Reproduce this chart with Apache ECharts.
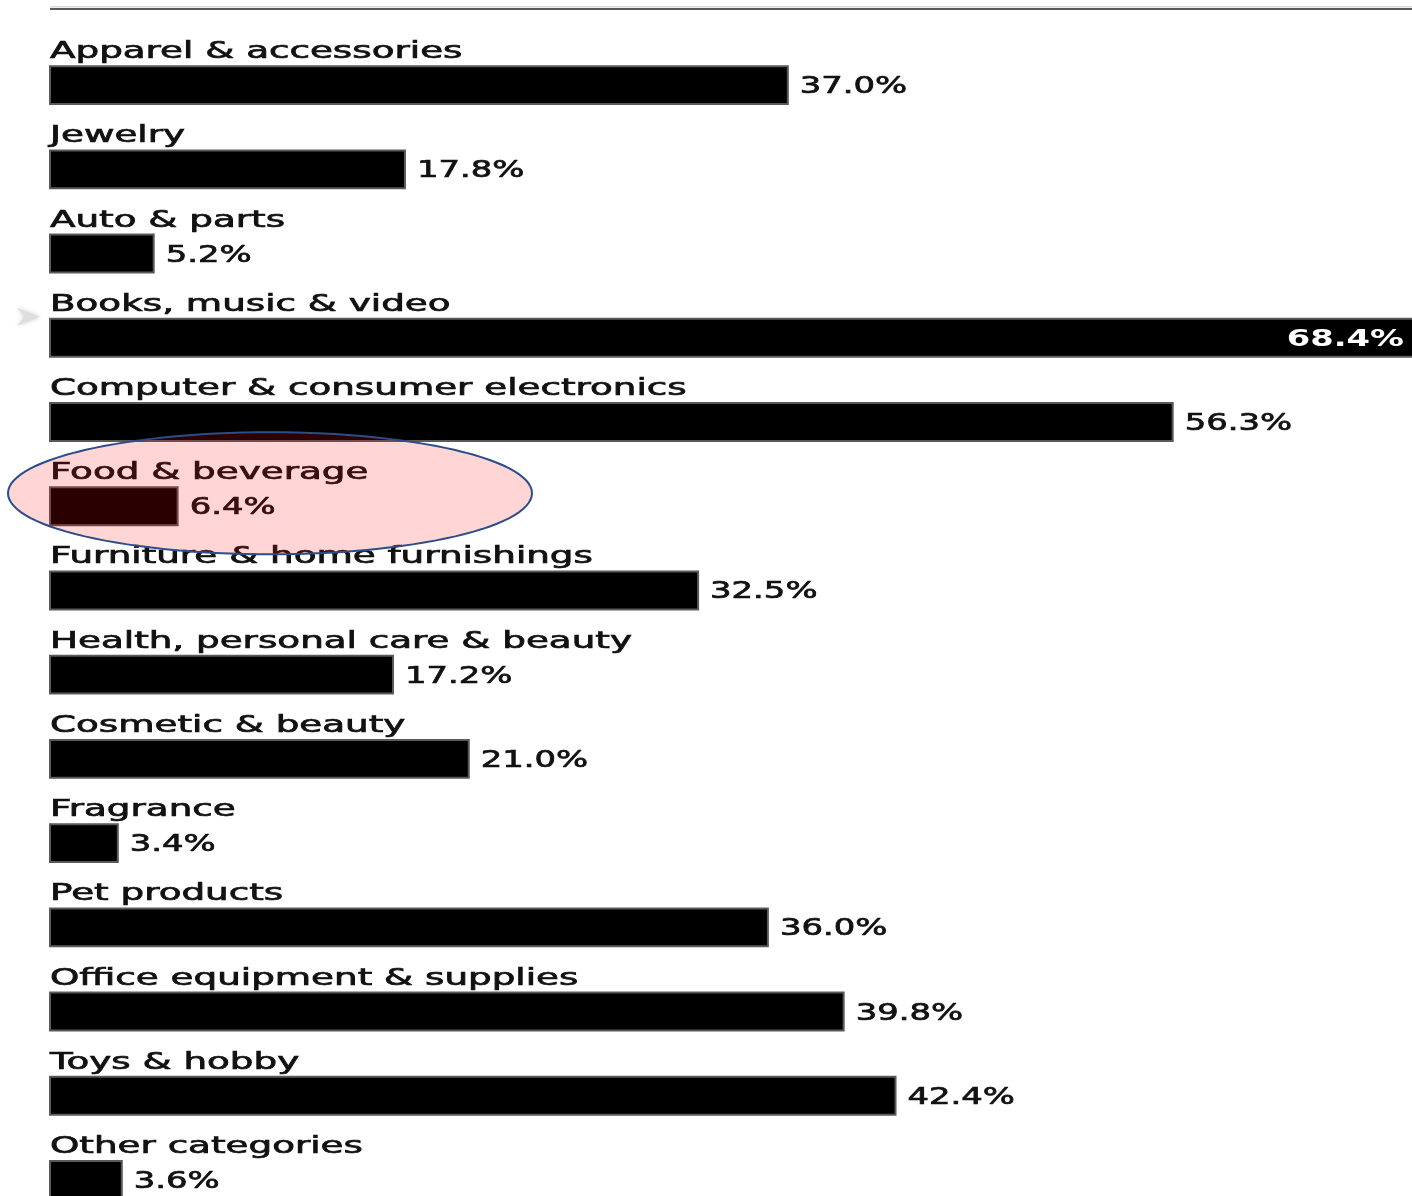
<!DOCTYPE html>
<html>
<head>
<meta charset="utf-8">
<script src="https://cdn.jsdelivr.net/npm/echarts@6/dist/echarts.min.js"></script>
<style>
html,body{margin:0;padding:0;background:#fff;}
#chart{width:1412px;height:1196px;}
</style>
</head>
<body>
<div id="chart"></div>
<script>
const categories = [
  "Apparel & accessories",
  "Jewelry",
  "Auto & parts",
  "Books, music & video",
  "Computer & consumer electronics",
  "Food & beverage",
  "Furniture & home furnishings",
  "Health, personal care & beauty",
  "Cosmetic & beauty",
  "Fragrance",
  "Pet products",
  "Office equipment & supplies",
  "Toys & hobby",
  "Other categories"
];
const values = [37.0, 17.8, 5.2, 68.4, 56.3, 6.4, 32.5, 17.2, 21.0, 3.4, 36.0, 39.8, 42.4, 3.6];
const highlighted = "Food & beverage";

const FONT = '23px "DejaVu Sans"';
const SCALE_CAT = 1.62;
const SCALE_VAL = 1.47;

const chart = echarts.init(document.getElementById('chart'));
const data = values.map((v, i) => [v, i]);
const maxV = Math.max.apply(null, values);

chart.setOption({
  animation: false,
  grid: {left: 50, right: 0, top: 43, bottom: 0},
  xAxis: {type: 'value', min: 0, max: 68.3, show: false},
  yAxis: {type: 'value', min: -0.5, max: 13.19, inverse: true, show: false},
  series: [{
    type: 'custom',
    clip: false,
    data: data,
    encode: {x: 0, y: 1},
    renderItem: function (params, api) {
      const v = api.value(0);
      const i = api.value(1);
      const s = api.coord([0, i]);
      const e = api.coord([v, i]);
      const band = Math.abs(api.size([0, 1])[1]);
      const h = band * 0.45;
      const top = s[1] - h / 2;
      const isMax = v === maxV;
      const children = [
        {type: 'rect', shape: {x: s[0], y: top, width: e[0] - s[0], height: h},
         style: {fill: '#000', stroke: '#5a5a5a', lineWidth: 2}},
        {type: 'text', x: s[0], y: top - 14, scaleX: SCALE_CAT,
         style: {text: categories[i], x: 0, y: 0, fill: '#111', stroke: '#111', lineWidth: 0.7, font: FONT,
                 align: 'left', verticalAlign: 'middle', textAlign: 'left', textVerticalAlign: 'middle'}}
      ];
      if (isMax) {
        children.push({type: 'text', x: e[0] - 10, y: s[1] + 2, scaleX: SCALE_VAL,
          style: {text: v.toFixed(1) + '%', x: 0, y: 0, fill: '#fff', font: 'bold 23px "DejaVu Sans"',
                  align: 'right', verticalAlign: 'middle', textAlign: 'right', textVerticalAlign: 'middle'}});
      } else {
        children.push({type: 'text', x: e[0] + 12, y: s[1] + 2, scaleX: SCALE_VAL,
          style: {text: v.toFixed(1) + '%', x: 0, y: 0, fill: '#111', stroke: '#111', lineWidth: 0.7, font: FONT,
                  align: 'left', verticalAlign: 'middle', textAlign: 'left', textVerticalAlign: 'middle'}});
      }
      return {type: 'group', children: children};
    }
  }]
});

// annotations
const hi = categories.indexOf(highlighted);
const c = chart.convertToPixel({gridIndex: 0}, [0, hi]);
const cx = c[0] + 220, cy = c[1] - 13, rx = 262, ry = 61;
const pts = [];
for (let k = 0; k < 120; k++) {
  const t = k / 120 * Math.PI * 2;
  pts.push([cx + rx * Math.cos(t), cy + ry * Math.sin(t)]);
}
const books = chart.convertToPixel({gridIndex: 0}, [0, categories.indexOf("Books, music & video")]);
chart.setOption({
  graphic: [
    {type: 'rect', z: 100, shape: {x: 50, y: 8, width: 1362, height: 2}, style: {fill: '#5a5a5a'}},
    {type: 'rect', z: 100, shape: {x: 50, y: 6, width: 1362, height: 1.5}, style: {fill: '#dcdcdc'}},
    {type: 'polygon', z: 100,
     shape: {points: [[17, books[1] - 30], [40, books[1] - 21], [17, books[1] - 12], [25, books[1] - 21]]},
     style: {fill: '#dedede', shadowBlur: 4, shadowColor: '#ccc'}},
    {type: 'polygon', z: 100, shape: {points: pts},
     style: {fill: 'rgba(255,0,0,0.165)', stroke: '#2c4d88', lineWidth: 2}}
  ]
});
</script>
</body>
</html>
